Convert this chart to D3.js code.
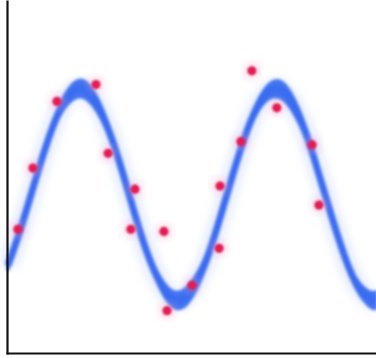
<!DOCTYPE html>
<html>
<head>
<meta charset="utf-8">
<script src="https://cdn.jsdelivr.net/npm/d3@7"></script>
<style>
  html, body { margin: 0; padding: 0; background: #fff; }
  svg { display: block; }
</style>
</head>
<body>
<svg id="chart" width="376" height="358"></svg>
<script>
// ---- data ----
const curveX = [0, 0.4, 0.8, 1.2, 1.6, 2.0, 2.4, 2.8, 3.2, 3.6, 4.0, 4.4, 4.8, 5.2, 5.6, 6.0, 6.4, 6.8, 7.2, 7.6, 8.0, 8.4, 8.8, 9.2, 9.6, 10.0, 10.4, 10.8, 11.2, 11.6, 11.8];
const curveY = [-0.67, -0.33, 0.06, 0.44, 0.76, 0.95, 1.0, 0.88, 0.63, 0.28, -0.12, -0.50, -0.79, -0.97, -0.99, -0.85, -0.59, -0.22, 0.18, 0.55, 0.83, 0.98, 0.98, 0.82, 0.54, 0.16, -0.23, -0.59, -0.86, -0.99, -1.0];
const curveSpread = [0.04, 0.03, 0.02, 0.03, 0.05, 0.07, 0.08, 0.07, 0.05, 0.03, 0.02, 0.03, 0.05, 0.07, 0.08, 0.07, 0.05, 0.03, 0.02, 0.03, 0.05, 0.07, 0.08, 0.07, 0.05, 0.03, 0.02, 0.03, 0.05, 0.07, 0.08];
const pointX = [0.32, 0.80, 1.57, 2.82, 3.21, 4.07, 3.94, 5.00, 5.10, 5.90, 6.77, 6.80, 7.47, 7.82, 8.62, 9.75, 9.97];
const pointY = [-0.33, 0.25, 0.88, 1.04, 0.39, 0.05, -0.33, -0.35, -1.10, -0.86, -0.51, 0.08, 0.50, 1.17, 0.82, 0.47, -0.10];

const W = 376, H = 358;
const svg = d3.select("#chart");

const x = d3.scaleLinear().domain([0, 11.8]).range([8, 376]);
const y = d3.scaleLinear().domain([-1.5, 1.84]).range([353, 0]);

const defs = svg.append("defs");
defs.append("filter").attr("id", "blurBand").attr("x", "-10%").attr("y", "-10%").attr("width", "120%").attr("height", "120%")
  .append("feGaussianBlur").attr("stdDeviation", 1.5);
defs.append("filter").attr("id", "blurHalo").attr("x", "-20%").attr("y", "-20%").attr("width", "140%").attr("height", "140%")
  .append("feGaussianBlur").attr("stdDeviation", 4);
defs.append("filter").attr("id", "blurDot").attr("x", "-50%").attr("y", "-50%").attr("width", "200%").attr("height", "200%")
  .append("feGaussianBlur").attr("stdDeviation", 1.3);

const band = curveX.map((d, i) => ({ x: d, y: curveY[i], s: curveSpread[i] }));

// faint halo
svg.append("path")
  .datum(band)
  .attr("d", d3.line().x(d => x(d.x)).y(d => y(d.y)).curve(d3.curveNatural))
  .attr("fill", "none")
  .attr("stroke", "#c9d8ff")
  .attr("stroke-opacity", 0.45)
  .attr("stroke-width", 20)
  .attr("filter", "url(#blurHalo)");

const g = svg.append("g").attr("filter", "url(#blurBand)");
g.append("path")
  .datum(band)
  .attr("d", d3.area().x(d => x(d.x)).y0(d => y(d.y - d.s)).y1(d => y(d.y + d.s)).curve(d3.curveNatural))
  .attr("fill", "#4275f0")
  .attr("stroke", "#4275f0")
  .attr("stroke-width", 3)
  .attr("stroke-linejoin", "round");
g.append("path")
  .datum(band)
  .attr("d", d3.line().x(d => x(d.x)).y(d => y(d.y)).curve(d3.curveNatural))
  .attr("fill", "none")
  .attr("stroke", "#3a6cf0")
  .attr("stroke-width", 7);

// points
const pts = pointX.map((d, i) => ({ x: d, y: pointY[i] }));
svg.append("g").selectAll("circle.halo").data(pts).join("circle")
  .attr("cx", d => x(d.x)).attr("cy", d => y(d.y)).attr("r", 8)
  .attr("fill", "#ff9ab8").attr("opacity", 0.35).attr("filter", "url(#blurHalo)");
svg.append("g").selectAll("circle.dot").data(pts).join("circle")
  .attr("cx", d => x(d.x)).attr("cy", d => y(d.y)).attr("r", 4.6)
  .attr("fill", "#e41b55").attr("filter", "url(#blurDot)");

// axes (spines only)
svg.append("g")
  .attr("transform", `translate(0,353)`)
  .call(d3.axisBottom(d3.scaleLinear().range([6, 376])).ticks(0).tickSizeOuter(0))
  .call(a => a.select(".domain").attr("stroke", "#111").attr("stroke-width", 2.2));
svg.append("g")
  .attr("transform", `translate(7,0)`)
  .call(d3.axisLeft(d3.scaleLinear().range([354, 0])).ticks(0).tickSizeOuter(0))
  .call(a => a.select(".domain").attr("stroke", "#111").attr("stroke-width", 2.2));
</script>
</body>
</html>
